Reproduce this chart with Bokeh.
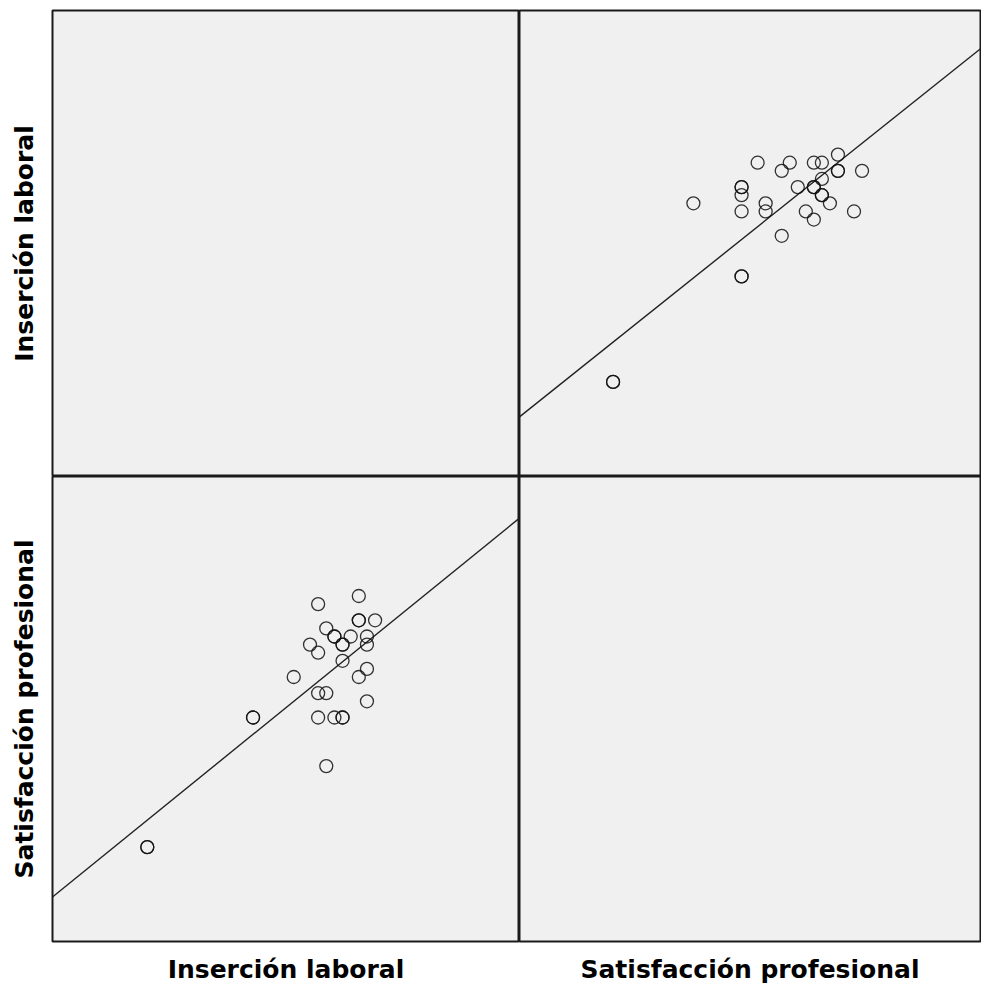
import numpy as np
from bokeh.plotting import figure
from bokeh.layouts import gridplot
from bokeh.models import Range1d
from bokeh.embed import file_html
from bokeh.resources import INLINE

# Data: Inserción laboral (I) and Satisfacción profesional (S)
insercion = [21, 26, 26, 26, 28, 22, 23, 23, 25, 27, 20, 24, 24, 27, 21, 24,
             27, 18, 26, 21, 22, 27, 13, 13, 21, 23, 24, 24, 22, 0, 0]
satisfaccion = [30, 31, 28, 28, 28, 27, 26, 26, 26, 26, 25, 25, 25, 25, 24, 23,
                22, 21, 21, 19, 19, 18, 16, 16, 16, 16, 16, 16, 10, 0, 0]

# Fit lines: y = intercept + slope * x
fit_I_on_S = (4.90, 0.79)     # top-right panel: Inserción vs Satisfacción
fit_S_on_I = (3.33, 0.815)    # bottom-left panel: Satisfacción vs Inserción

label_insercion = "Inserción laboral"
label_satisf = "Satisfacción profesional"

RANGE_LO = -11.65
RANGE_HI = 45.75

BG = "#f0f0f0"
FONT = "DejaVu Sans"


def make_panel(fw, fh, left_label=None, bottom_label=None, right_border=0):
    p = figure(frame_width=fw, frame_height=fh,
               x_range=Range1d(RANGE_LO, RANGE_HI), y_range=Range1d(RANGE_LO, RANGE_HI),
               output_backend="svg", toolbar_location=None,
               x_axis_location="below" if bottom_label else None,
               y_axis_location="left" if left_label else None,
               min_border_left=52 if left_label is not None else 0,
               min_border_right=right_border,
               min_border_top=10 if bottom_label is None else 0,
               min_border_bottom=44 if bottom_label is not None else 0,
               background_fill_color=BG, border_fill_color="white")
    p.grid.visible = False
    p.outline_line_color = "#1a1a1a"
    p.outline_line_width = 2
    for ax, lab in ((p.xaxis, bottom_label), (p.yaxis, left_label)):
        if lab is None:
            continue
        ax.axis_label = lab
        ax.axis_label_text_font = FONT
        ax.axis_label_text_font_style = "bold"
        ax.axis_label_text_font_size = "25px"
        ax.axis_label_text_color = "black"
        ax.major_label_text_font_size = "0px"
        ax.major_label_standoff = 0
        ax.major_tick_line_color = None
        ax.minor_tick_line_color = None
        ax.axis_line_color = None
    if bottom_label is not None:
        p.xaxis.axis_label_standoff = 7
    if left_label is not None:
        p.yaxis.axis_label_standoff = 8
    return p


def add_scatter(p, x, y, fit):
    a, b = fit
    xs = np.array([RANGE_LO, RANGE_HI])
    p.line(xs, a + b * xs, line_color="#222222", line_width=1.4)
    p.scatter(x, y, marker="circle", size=13, fill_color=None,
              line_color="#111111", line_alpha=0.85, line_width=1.3)


tl = make_panel(467, 466, left_label=label_insercion)
tr = make_panel(461, 466, right_border=1)
bl = make_panel(467, 465, left_label=label_satisf, bottom_label=label_insercion)
br = make_panel(461, 465, bottom_label=label_satisf, right_border=1)

# top-right: x = Satisfacción, y = Inserción
add_scatter(tr, satisfaccion, insercion, fit_I_on_S)
# bottom-left: x = Inserción, y = Satisfacción
add_scatter(bl, insercion, satisfaccion, fit_S_on_I)

grid = gridplot([[tl, tr], [bl, br]], toolbar_location=None)

open("out.html", "w").write(file_html(grid, INLINE))
